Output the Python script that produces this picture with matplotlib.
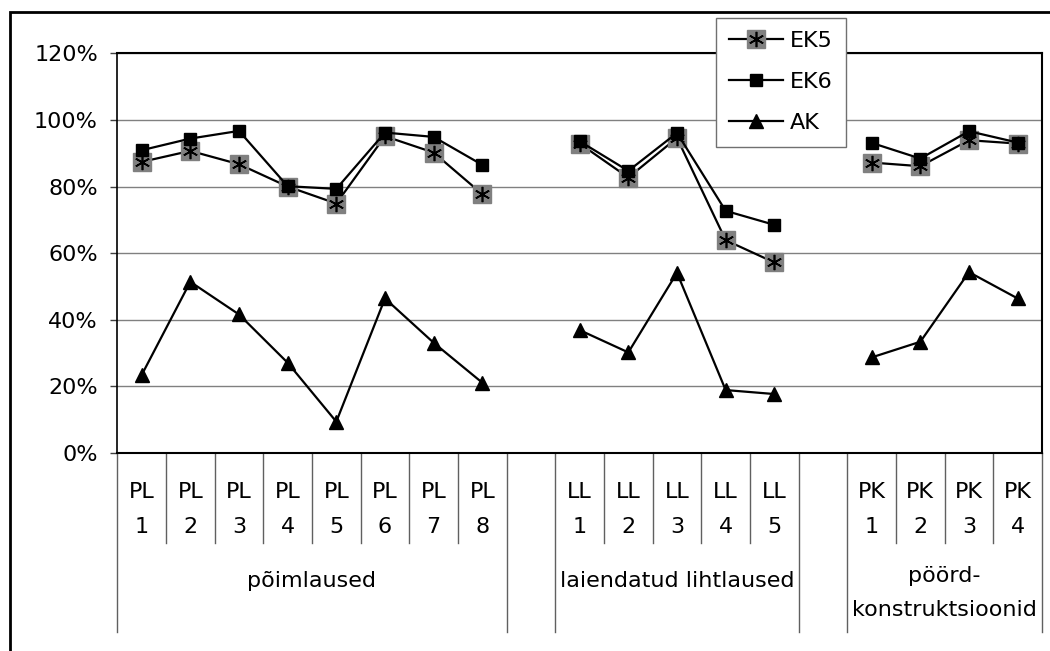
import matplotlib.pyplot as plt
import numpy as np
from matplotlib.lines import Line2D
from matplotlib.patches import Rectangle

# category groups on the x axis (empty groups leave a gap)
groups = ['põimlaused', '', 'laiendatud lihtlaused', '', 'pöörd-\nkonstruktsioonid']
group_sizes = [8, 1, 5, 1, 4]
categories = (['PL\n%d' % i for i in range(1, 9)] + [''] +
              ['LL\n%d' % i for i in range(1, 6)] + [''] +
              ['PK\n%d' % i for i in range(1, 5)])

nan = np.nan
ek5 = [87.4, 90.7, 86.7, 80.0, 74.9, 95.1, 90.2, 77.7, nan,
       92.9, 82.7, 94.6, 63.9, 57.2, nan,
       87.2, 86.1, 93.9, 92.9]
ek6 = [90.9, 94.4, 96.7, 80.1, 79.3, 96.2, 94.9, 86.5, nan,
       93.6, 84.7, 96.1, 72.7, 68.5, nan,
       93.1, 88.4, 96.6, 93.2]
ak = [23.4, 51.4, 41.6, 27.1, 9.4, 46.4, 33.1, 21.1, nan,
      36.9, 30.2, 54.1, 18.9, 17.7, nan,
      28.7, 33.4, 54.3, 46.4]

W, H = 1050, 651
fig = plt.figure(figsize=(W / 100, H / 100), dpi=100)
plt.rcParams['font.family'] = ['DejaVu Sans']
FS = 16

# plot area in pixels
x0, x1, ytop, ybot = 117.3, 1042, 53.3, 453
ax = fig.add_axes([x0 / W, 1 - ybot / H, (x1 - x0) / W, (ybot - ytop) / H])

x = np.arange(len(categories))
ek5 = np.array(ek5) / 100
ek6 = np.array(ek6) / 100
ak = np.array(ak) / 100

l5a, = ax.plot(x, ek5, color='black', lw=1.6, marker='s', ms=12.5,
               mfc='#808080', mec='#808080', zorder=3)
l5b, = ax.plot(x, ek5, ls='none', marker=(6, 2, 0), ms=11, mec='black',
               mew=1.2, zorder=3.1)
l6, = ax.plot(x, ek6, color='black', lw=1.6, marker='s', ms=8.2,
              mfc='black', mec='black', zorder=4)
lak, = ax.plot(x, ak, color='black', lw=1.6, marker='^', ms=9.5,
               mfc='black', mec='black', zorder=4)

ax.set_xlim(-0.5, len(categories) - 0.5)
ax.set_ylim(0, 1.2)
ax.set_yticks(np.arange(0, 1.21, 0.2))
ax.set_yticklabels(['%d%%' % round(v * 100) for v in np.arange(0, 1.21, 0.2)],
                   fontsize=FS)
ax.tick_params(axis='y', length=5, width=1, color='#404040', pad=9)
ax.set_xticks([])
ax.grid(axis='y', color='#808080', lw=1)
ax.set_axisbelow(True)
for s in ax.spines.values():
    s.set_color('black')
    s.set_linewidth(1.5)
ax.spines['left'].set_linewidth(1.2)

# multi-level category axis drawn below the plot
def fy(py):
    return (ybot - py) / (ybot - ytop)

tr = ax.get_xaxis_transform()
for i, lab in enumerate(categories):
    parts = lab.split('\n')
    if len(parts) == 2:
        ax.text(i, fy(498.3), parts[0], transform=tr, ha='center',
                va='baseline', fontsize=FS, clip_on=False)
        ax.text(i, fy(533.3), parts[1], transform=tr, ha='center',
                va='baseline', fontsize=FS, clip_on=False)

bounds = np.cumsum([0] + group_sizes) - 0.5
for b in np.arange(-0.5, len(categories)):
    if np.any(np.isclose(bounds, b)):
        y_end = 632
    else:
        y_end = 543
    ax.add_line(Line2D([b, b], [0, fy(y_end)], transform=tr, color='#606060',
                       lw=1, clip_on=False))

for g, (name, n) in enumerate(zip(groups, group_sizes)):
    if not name:
        continue
    cx = (bounds[g] + bounds[g + 1]) / 2
    parts = name.split('\n')
    if len(parts) == 1:
        ax.text(cx, fy(587), parts[0], transform=tr, ha='center',
                va='baseline', fontsize=FS, clip_on=False)
    else:
        ax.text(cx, fy(581.7), parts[0], transform=tr, ha='center',
                va='baseline', fontsize=FS, clip_on=False)
        ax.text(cx, fy(616), parts[1], transform=tr, ha='center',
                va='baseline', fontsize=FS, clip_on=False)

leg = ax.legend([(l5a, l5b), l6, lak], ['EK5', 'EK6', 'AK'],
                loc='upper left', bbox_to_anchor=(715.7 / W, 1 - 17.7 / H),
                bbox_transform=fig.transFigure, borderaxespad=0,
                fontsize=FS, frameon=True, fancybox=False, shadow=False,
                handlelength=2.45, handletextpad=0.3, labelspacing=0.95,
                borderpad=0.6)
leg.get_frame().set_edgecolor('#707070')
leg.get_frame().set_linewidth(1)
leg.get_frame().set_alpha(1)

# outer chart border (only left and top edges visible)
fig.add_artist(Rectangle((10 / W, -0.1), 1.2, (H - 12) / H + 0.1,
                         transform=fig.transFigure, fill=False,
                         edgecolor='black', lw=2))

plt.savefig('out.png', dpi=100)
